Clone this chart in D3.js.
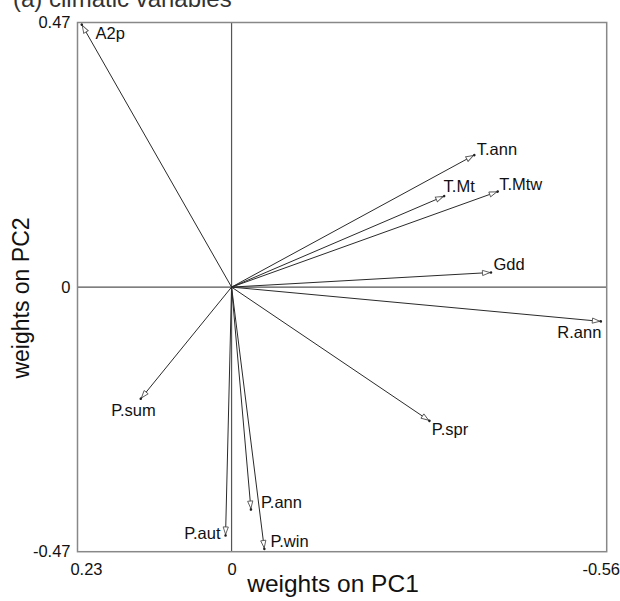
<!DOCTYPE html>
<html>
<head>
    <title>PCA weights - climatic variables</title>
    <style>
        body { margin: 0; background: #fff; }
        svg { display: block; font-family: "Liberation Sans", Arial, sans-serif; }
    </style>
</head>
<body>
    <div id="chart"></div>

    <script src="https://cdnjs.cloudflare.com/ajax/libs/d3/7.8.5/d3.min.js"></script>
    <script>
        // Data: variable loadings on PC1 / PC2
        const varNames = ["A2p", "T.ann", "T.Mt", "T.Mtw", "Gdd", "R.ann", "P.sum", "P.spr", "P.ann", "P.aut", "P.win"];
        const pc1 = [0.224, -0.363, -0.318, -0.398, -0.388, -0.552, 0.136, -0.296, -0.029, 0.009, -0.049];
        const pc2 = [0.467, 0.235, 0.162, 0.170, 0.026, -0.061, -0.199, -0.238, -0.396, -0.442, -0.466];

        const xTicks = [0.23, 0, -0.56];
        const xTickLabels = ["0.23", "0", "-0.56"];
        const yTicks = [0.47, 0, -0.47];
        const yTickLabels = ["0.47", "0", "-0.47"];

        // Label placement next to each arrow tip: [dx, dy, anchor]
        const labelPlacement = {
            "A2p":   [14, 9, "start"],
            "T.ann": [2, -6, "start"],
            "T.Mt":  [-1, -10, "start"],
            "T.Mtw": [1, -7, "start"],
            "Gdd":   [2, -8, "start"],
            "R.ann": [0, 11, "end"],
            "P.sum": [-7, 11, "middle"],
            "P.spr": [2, 8, "start"],
            "P.ann": [10, -8, "start"],
            "P.aut": [-5, -3, "end"],
            "P.win": [6, -8, "start"]
        };

        const width = 620, height = 601;
        const plotLeft = 77.5, plotRight = 606.7, plotTop = 22.5, plotBottom = 551.7;

        const x = d3.scaleLinear().domain([0.23, -0.56]).range([plotLeft, plotRight]);
        const y = d3.scaleLinear().domain([0.47, -0.47]).range([plotTop, plotBottom]);

        const svg = d3.select("#chart").append("svg")
            .attr("width", width)
            .attr("height", height);

        // arrow head: open triangle with a small dot at the tip
        const defs = svg.append("defs");
        const marker = defs.append("marker")
            .attr("id", "head")
            .attr("markerUnits", "userSpaceOnUse")
            .attr("viewBox", "-10 -5 12 10")
            .attr("refX", 0).attr("refY", 0)
            .attr("markerWidth", 12).attr("markerHeight", 10)
            .attr("orient", "auto");
        marker.append("path")
            .attr("d", "M-1.5,0 L-9,-2.6 L-9,2.6 Z")
            .attr("fill", "#fff")
            .attr("stroke", "#555")
            .attr("stroke-width", 0.9);
        marker.append("circle")
            .attr("cx", -0.5).attr("cy", 0).attr("r", 1.3)
            .attr("fill", "#222");

        // title (cut off at the top in the original)
        svg.append("text")
            .attr("x", 13).attr("y", 7)
            .attr("font-size", 24)
            .attr("fill", "#333")
            .text("(a) climatic variables");

        // zero lines
        svg.append("line")
            .attr("x1", x(0)).attr("x2", x(0))
            .attr("y1", plotTop).attr("y2", plotBottom)
            .attr("stroke", "#555").attr("stroke-width", 1.2);
        svg.append("line")
            .attr("x1", plotLeft).attr("x2", plotRight)
            .attr("y1", y(0)).attr("y2", y(0))
            .attr("stroke", "#555").attr("stroke-width", 1.2);

        // frame
        svg.append("rect")
            .attr("x", plotLeft).attr("y", plotTop)
            .attr("width", plotRight - plotLeft).attr("height", plotBottom - plotTop)
            .attr("fill", "none")
            .attr("stroke", "#888")
            .attr("stroke-width", 1.5);

        // arrows
        const data = varNames.map((name, i) => ({ name, pc1: pc1[i], pc2: pc2[i] }));

        svg.append("g").selectAll("line")
            .data(data)
            .join("line")
            .attr("x1", x(0)).attr("y1", y(0))
            .attr("x2", d => x(d.pc1)).attr("y2", d => y(d.pc2))
            .attr("stroke", "#2a2a2a")
            .attr("stroke-width", 1)
            .attr("marker-end", "url(#head)");

        svg.append("g").selectAll("text")
            .data(data)
            .join("text")
            .attr("x", d => x(d.pc1) + labelPlacement[d.name][0])
            .attr("y", d => y(d.pc2) + labelPlacement[d.name][1])
            .attr("dy", "0.36em")
            .attr("text-anchor", d => labelPlacement[d.name][2])
            .attr("font-size", 16.5)
            .attr("fill", "#111")
            .text(d => d.name);

        // axes
        const xAxis = svg.append("g")
            .attr("transform", `translate(0,${plotBottom})`)
            .call(d3.axisBottom(x)
                .tickValues(xTicks)
                .tickSize(0)
                .tickPadding(12)
                .tickFormat((d, i) => xTickLabels[i]));
        xAxis.select(".domain").remove();
        xAxis.selectAll("text")
            .attr("font-size", 16.5)
            .attr("font-family", "Liberation Sans, Arial, sans-serif")
            .attr("fill", "#111")
            .attr("dx", (d, i) => i === 0 ? 8.5 : (i === xTicks.length - 1 ? -6 : 0));

        const yAxis = svg.append("g")
            .attr("transform", `translate(${plotLeft},0)`)
            .call(d3.axisLeft(y)
                .tickValues(yTicks)
                .tickSize(0)
                .tickPadding(7)
                .tickFormat((d, i) => yTickLabels[i]));
        yAxis.select(".domain").remove();
        yAxis.selectAll("text")
            .attr("font-size", 16.5)
            .attr("font-family", "Liberation Sans, Arial, sans-serif")
            .attr("fill", "#111");

        // axis titles
        svg.append("text")
            .attr("x", 333).attr("y", 592)
            .attr("text-anchor", "middle")
            .attr("font-size", 24.5)
            .attr("fill", "#111")
            .text("weights on PC1");

        svg.append("text")
            .attr("transform", "translate(29,298) rotate(-90)")
            .attr("text-anchor", "middle")
            .attr("font-size", 23)
            .attr("fill", "#111")
            .text("weights on PC2");
    </script>
</body>
</html>
